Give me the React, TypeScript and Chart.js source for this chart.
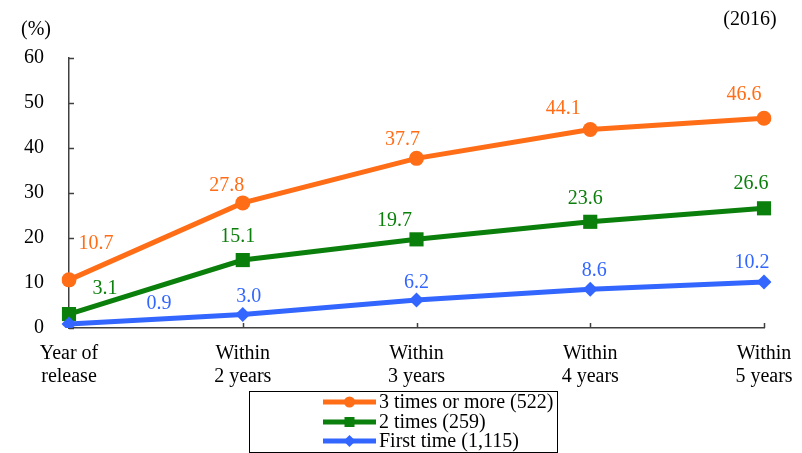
import React, { useEffect, useRef } from "react";
import { Chart, registerables } from "chart.js";

Chart.register(...registerables);

const categories: string[][] = [
  ["Year of", "release"],
  ["Within", "2 years"],
  ["Within", "3 years"],
  ["Within", "4 years"],
  ["Within", "5 years"],
];
const threeOrMore = [10.7, 27.8, 37.7, 44.1, 46.6];
const twoTimes = [3.1, 15.1, 19.7, 23.6, 26.6];
const firstTime = [0.9, 3.0, 6.2, 8.6, 10.2];
const seriesNames = ["3 times or more (522)", "2 times (259)", "First time (1,115)"];
const yTicks = [0, 10, 20, 30, 40, 50, 60];

const ORANGE = "#FF6D17";
const GREEN = "#0B7F0B";
const BLUE = "#3366FF";
const FONT = "'Liberation Serif', 'Times New Roman', serif";

// label offsets (style) per series per point, in pixels relative to the marker
const labelOffsets: number[][][] = [
  [[27, -36], [-16, -17], [-14, -19], [-27, -21], [-20, -24]],
  [[36, -25], [-5, -23], [-22, -19], [-5, -23], [-13, -25]],
  [[90, -20], [6, -18], [0, -17], [4, -19], [-12, -19]],
];

const drawMarker = (ctx: CanvasRenderingContext2D, style: string, x: number, y: number, r: number, color: string) => {
  ctx.save();
  ctx.fillStyle = color;
  ctx.beginPath();
  if (style === "circle") {
    ctx.arc(x, y, r, 0, Math.PI * 2);
  } else if (style === "rect") {
    ctx.rect(x - r, y - r, 2 * r, 2 * r);
  } else {
    ctx.moveTo(x, y - r);
    ctx.lineTo(x + r, y);
    ctx.lineTo(x, y + r);
    ctx.lineTo(x - r, y);
    ctx.closePath();
  }
  ctx.fill();
  ctx.restore();
};

const extrasPlugin = {
  id: "extras",
  beforeDatasetsDraw(chart: any) {
    const ctx = chart.ctx as CanvasRenderingContext2D;
    const xs = chart.scales.x;
    const ys = chart.scales.y;
    ctx.save();
    ctx.strokeStyle = "#404040";
    ctx.lineWidth = 1.5;
    ctx.beginPath();
    yTicks.forEach((v) => {
      const py = Math.round(ys.getPixelForValue(v)) + 0.5;
      ctx.moveTo(xs.left, py);
      ctx.lineTo(xs.left + 5, py);
    });
    categories.forEach((_, i) => {
      const px = Math.round(xs.getPixelForValue(i)) + 0.5;
      ctx.moveTo(px, ys.bottom);
      ctx.lineTo(px, ys.bottom - 5);
    });
    ctx.stroke();
    ctx.restore();
  },
  afterDatasetsDraw(chart: any) {
    const ctx = chart.ctx as CanvasRenderingContext2D;
    ctx.save();
    ctx.font = `20px ${FONT}`;
    ctx.textAlign = "center";
    ctx.textBaseline = "middle";
    chart.data.datasets.forEach((ds: any, di: number) => {
      const meta = chart.getDatasetMeta(di);
      ctx.fillStyle = ds.borderColor;
      meta.data.forEach((pt: any, i: number) => {
        const off = labelOffsets[di][i];
        ctx.fillText(Number(ds.data[i]).toFixed(1), pt.x + off[0], pt.y + off[1]);
      });
    });
    // unit and year texts
    ctx.fillStyle = "#000";
    ctx.fillText("(%)", 36, 30);
    ctx.fillText("(2016)", 750, 20);

    // legend box
    const bx = 249.5, by = 391.5, bw = 308, bh = 61;
    ctx.strokeStyle = "#000";
    ctx.lineWidth = 1;
    ctx.strokeRect(bx, by, bw, bh);
    const rows = [402, 422, 441];
    const markers = ["circle", "rect", "diamond"];
    const mr = [5.5, 5, 6];
    chart.data.datasets.forEach((ds: any, di: number) => {
      const y = rows[di];
      ctx.strokeStyle = ds.borderColor;
      ctx.lineWidth = 5;
      ctx.lineCap = "butt";
      ctx.beginPath();
      ctx.moveTo(323, y);
      ctx.lineTo(376, y);
      ctx.stroke();
      drawMarker(ctx, markers[di], 349.5, y, mr[di], ds.borderColor);
      ctx.fillStyle = "#000";
      ctx.textAlign = "left";
      ctx.fillText(seriesNames[di], 379, y + 1);
    });
    ctx.restore();
  },
};

export default function App() {
  const ref = useRef<HTMLCanvasElement | null>(null);
  useEffect(() => {
    if (!ref.current) return;
    const chart = new Chart(ref.current, {
      type: "line",
      data: {
        labels: categories,
        datasets: [
          {
            label: seriesNames[0],
            data: threeOrMore,
            borderColor: ORANGE,
            backgroundColor: ORANGE,
            borderWidth: 5,
            pointStyle: "circle",
            pointRadius: 7.5,
            pointBorderWidth: 0,
            order: 2,
          },
          {
            label: seriesNames[1],
            data: twoTimes,
            borderColor: GREEN,
            backgroundColor: GREEN,
            borderWidth: 5,
            pointStyle: "rect",
            pointRadius: 10,
            pointBorderWidth: 0,
            order: 1,
          },
          {
            label: seriesNames[2],
            data: firstTime,
            borderColor: BLUE,
            backgroundColor: BLUE,
            borderWidth: 5,
            pointStyle: "rectRot",
            pointRadius: 7.5,
            pointBorderWidth: 0,
            order: 0,
          },
        ],
      },
      options: {
        animation: false,
        responsive: false,
        maintainAspectRatio: false,
        layout: { padding: { left: 0, right: 38, top: 58, bottom: 65 } },
        plugins: {
          legend: { display: false },
          tooltip: { enabled: false },
        },
        scales: {
          x: {
            type: "category",
            offset: false,
            grid: { display: false, drawTicks: false },
            border: { display: true, color: "#404040", width: 1.5 },
            ticks: {
              color: "#000",
              font: { family: FONT, size: 20, lineHeight: 1.15 },
              padding: 14,
              maxRotation: 0,
              autoSkip: false,
            },
            afterFit: (s: any) => {
              s.height = 60;
              s.paddingLeft = 0;
              s.paddingRight = 0;
            },
          },
          y: {
            min: 0,
            max: 60,
            grid: { display: false, drawTicks: false },
            border: { display: true, color: "#404040", width: 1.5 },
            ticks: {
              stepSize: 10,
              color: "#000",
              font: { family: FONT, size: 20 },
              padding: 25,
            },
            afterFit: (s: any) => {
              s.width = 69;
              s.paddingTop = 0;
              s.paddingBottom = 0;
            },
          },
        },
      },
      plugins: [extrasPlugin],
    });
    return () => chart.destroy();
  }, []);
  return (
    <div style={{ position: "fixed", left: 0, top: 0, width: 802, height: 453, background: "#fff" }}>
      <canvas ref={ref} width={802} height={453} style={{ width: 802, height: 453, display: "block" }} />
    </div>
  );
}
